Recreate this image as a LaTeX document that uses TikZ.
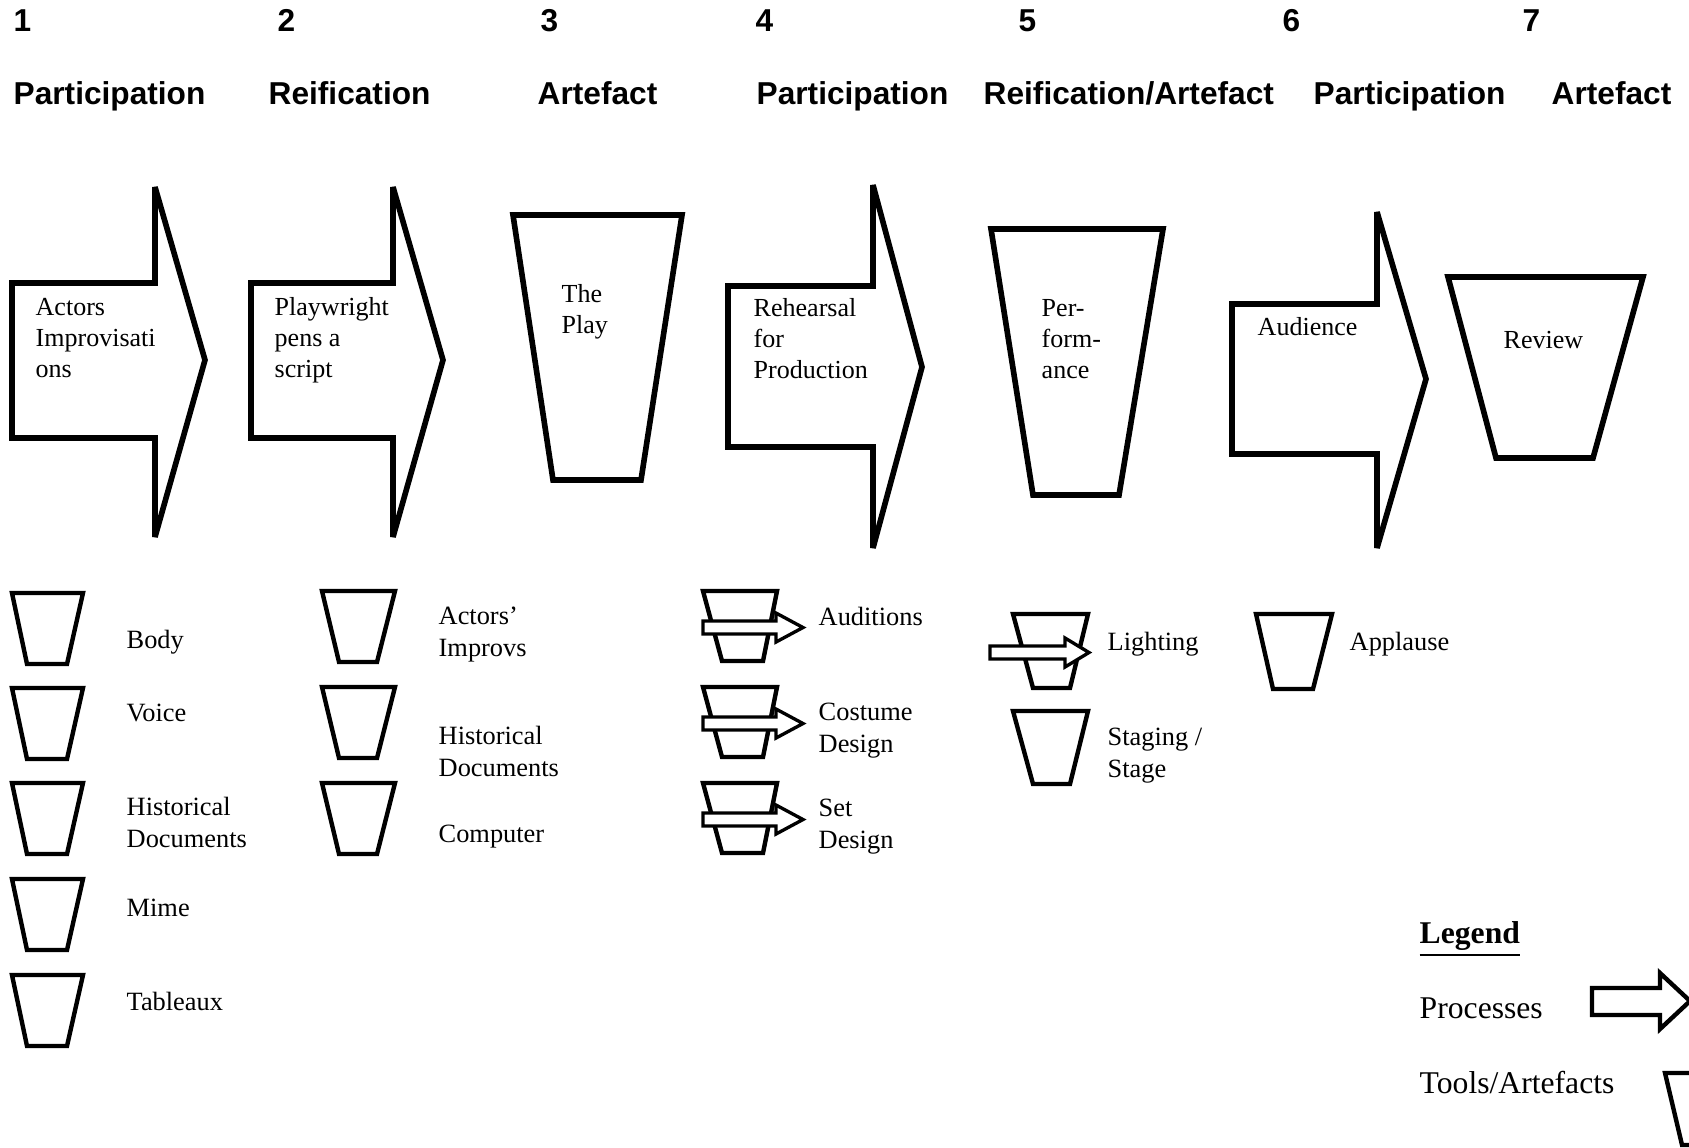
\documentclass[tikz,border=0pt]{standalone}
\usepackage{fontspec}
\setmainfont{Liberation Serif}
\newfontfamily\headfont{Liberation Sans}
\usepackage{tikz}

\begin{document}
\begin{tikzpicture}[x=0.01cm, y=-0.01cm,
    bigshape/.style={draw=black, line width=1.6pt, miter limit=4, fill=white},
    cup/.style={draw=black, line width=1.25pt, miter limit=4, fill=white},
    flow/.style={draw=black, line width=0.95pt, fill=white},
    stagehead/.style={font=\headfont\bfseries\fontsize{9}{11}\selectfont, anchor=base west, inner sep=0pt},
    boxlabel/.style={font=\fontsize{7.4}{8.8}\selectfont, align=left, anchor=base west, inner sep=0pt},
    toollabel/.style={font=\fontsize{7.5}{8.9}\selectfont, align=left, anchor=base west, inner sep=0pt},
    legendtext/.style={font=\fontsize{9}{11}\selectfont, anchor=base west, inner sep=0pt}]
    \path[use as bounding box, fill=white] (0,0) rectangle (1689,1147);

    % Stage numbers and headings
    \node[stagehead] (n1) at (13,31) {1};
    \node[stagehead] (n2) at (277,31) {2};
    \node[stagehead] (n3) at (540,31) {3};
    \node[stagehead] (n4) at (755,31) {4};
    \node[stagehead] (n5) at (1018,31) {5};
    \node[stagehead] (n6) at (1282,31) {6};
    \node[stagehead] (n7) at (1522,31) {7};
    \node[stagehead] (h1) at (13,104) {Participation};
    \node[stagehead] (h2) at (268,104) {Reification};
    \node[stagehead] (h3) at (537,104) {Artefact};
    \node[stagehead] (h4) at (756,104) {Participation};
    \node[stagehead] (h5) at (983,104) {Reification/Artefact};
    \node[stagehead] (h6) at (1313,104) {Participation};
    \node[stagehead] (h7) at (1551,104) {Artefact};

    % Big process arrows and artefact buckets
    \draw[bigshape] (12,283) -- (155,283) -- (155,187) -- (205,360) -- (155,537) -- (155,438) -- (12,438) -- cycle;
    \draw[bigshape] (251,283) -- (393,283) -- (393,187) -- (443,360) -- (393,537) -- (393,438) -- (251,438) -- cycle;
    \draw[bigshape] (513,215) -- (682,215) -- (641,480) -- (553,480) -- cycle;
    \draw[bigshape] (728,286) -- (873,286) -- (873,185) -- (922,367) -- (873,548) -- (873,447) -- (728,447) -- cycle;
    \draw[bigshape] (991,229) -- (1163,229) -- (1119,495) -- (1033,495) -- cycle;
    \draw[bigshape] (1232,304) -- (1377,304) -- (1377,212) -- (1426,379) -- (1377,548) -- (1377,454) -- (1232,454) -- cycle;
    \draw[bigshape] (1448,277) -- (1643,277) -- (1593,458) -- (1496,458) -- cycle;

    % labels sit on the baseline of their last line
    \node[boxlabel] (actorsimp) at (35,377) {Actors\\Improvisati\\ons};
    \node[boxlabel] (playwright) at (274,377) {Playwright\\pens a\\script};
    \node[boxlabel] (theplay) at (561,333) {The\\Play};
    \node[boxlabel] (rehearsal) at (753,378) {Rehearsal\\for\\Production};
    \node[boxlabel] (performance) at (1041,378) {Per-\\form-\\ance};
    \node[boxlabel] (audience) at (1257,335) {Audience};
    \node[boxlabel] (review) at (1503,348) {Review};

    % Tools under each stage
    \foreach \ty in {593,688,783,879,975}
        \draw[cup] (12,\ty) -- ++(71,0) -- ++(-16,71) -- ++(-40,0) -- cycle;
    \foreach \ty in {591,687,783}
        \draw[cup] (322,\ty) -- ++(73,0) -- ++(-18,71) -- ++(-38,0) -- cycle;
    \foreach \ty in {591,687,783} {
        \draw[cup] (703,\ty) -- ++(74,0) -- ++(-14,70) -- ++(-41,0) -- cycle;
        \draw[flow] (703,{\ty+30}) -- ++(73,0) -- ++(0,-8) -- ++(27,14.5) -- ++(-27,14.5) -- ++(0,-8) -- ++(-73,0) -- cycle;
    }
    \draw[cup] (1013,614) -- ++(75,0) -- ++(-18,74) -- ++(-37,0) -- cycle;
    \draw[flow] (990,646) -- ++(75,0) -- ++(0,-8) -- ++(24,14.5) -- ++(-24,14.5) -- ++(0,-8) -- ++(-75,0) -- cycle;
    \draw[cup] (1013,711) -- ++(75,0) -- ++(-18,73) -- ++(-37,0) -- cycle;
    \draw[cup] (1256,614) -- ++(76,0) -- ++(-19,75) -- ++(-40,0) -- cycle;

    \node[toollabel] (body) at (126,648) {Body};
    \node[toollabel] (voice) at (126,721) {Voice};
    \node[toollabel] (histdocsa) at (126,847) {Historical\\Documents};
    \node[toollabel] (mime) at (126,916) {Mime};
    \node[toollabel] (tableaux) at (126,1010) {Tableaux};
    \node[toollabel] (improvs) at (438,656) {Actors’\\Improvs};
    \node[toollabel] (histdocsb) at (438,776) {Historical\\Documents};
    \node[toollabel] (computer) at (438,842) {Computer};
    \node[toollabel] (auditions) at (818,625) {Auditions};
    \node[toollabel] (costume) at (818,752) {Costume\\Design};
    \node[toollabel] (setdesign) at (818,848) {Set\\Design};
    \node[toollabel] (lighting) at (1107,650) {Lighting};
    \node[toollabel] (staging) at (1107,777) {Staging /\\Stage};
    \node[toollabel] (applause) at (1349,650) {Applause};

    % Legend
    \node[legendtext] (legendtitle) at (1419,943) {\bfseries\underline{Legend}};
    \node[legendtext] (processes) at (1419,1018) {Processes};
    \node[legendtext] (toolsart) at (1419,1093) {Tools/Artefacts};
    \draw[cup] (1592,988) -- ++(68,0) -- ++(0,-15) -- ++(30,28) -- ++(-30,28) -- ++(0,-14) -- ++(-68,0) -- cycle;
    \draw[cup] (1665,1073) -- ++(74,0) -- ++(-17,72) -- ++(-40,0) -- cycle;
\end{tikzpicture}
\end{document}
